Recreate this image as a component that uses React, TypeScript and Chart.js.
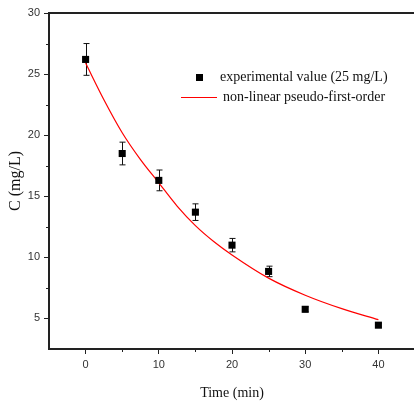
import React, { useEffect, useRef } from "react";
import { Chart, registerables } from "chart.js";

Chart.register(...registerables);

const timePoints = [0, 5, 10, 15, 20, 25, 30, 40];
const concValues = [26.2, 18.5, 16.3, 13.7, 11.0, 8.85, 5.75, 4.45];
const concErrors = [1.3, 0.93, 0.85, 0.68, 0.55, 0.43, 0.2, 0.15];

const fitTimes = [0, 2.5, 5, 7.5, 10, 12.5, 15, 17.5, 20, 25, 30, 35, 40];
const fitValues = [25.9, 22.9, 20.2, 18.0, 16.1, 14.2, 12.6, 11.3, 10.2, 8.3, 6.9, 5.8, 4.9];

const xTicks = [0, 10, 20, 30, 40];
const xMinorTicks = [5, 15, 25, 35];
const yTicks = [5, 10, 15, 20, 25, 30];
const yMinorTicks = [7.5, 12.5, 17.5, 22.5, 27.5];

const legendLabels = ["experimental value (25 mg/L)", "non-linear pseudo-first-order"];

const AXIS_COLOR = "#222";
const POINT_COLOR = "#000000";
const FIT_COLOR = "#ff0000";
const TICK_FONT = { family: "'Liberation Sans', Arial, sans-serif", size: 11 };
const SERIF = "'Liberation Serif', 'Times New Roman', serif";

const extrasPlugin = {
  id: "extras",
  beforeDatasetsDraw(chart: any) {
    const ctx = chart.ctx;
    const x = chart.scales.x;
    const y = chart.scales.y;
    ctx.save();
    ctx.strokeStyle = "#111";
    ctx.lineWidth = 1;
    timePoints.forEach((t, i) => {
      const px = Math.round(x.getPixelForValue(t)) + 0.5;
      const top = y.getPixelForValue(concValues[i] + concErrors[i]);
      const bot = y.getPixelForValue(concValues[i] - concErrors[i]);
      ctx.beginPath();
      ctx.moveTo(px, top);
      ctx.lineTo(px, bot);
      ctx.moveTo(px - 3, top);
      ctx.lineTo(px + 3, top);
      ctx.moveTo(px - 3, bot);
      ctx.lineTo(px + 3, bot);
      ctx.stroke();
    });
    ctx.restore();
  },
  afterDraw(chart: any) {
    const ctx = chart.ctx;
    const x = chart.scales.x;
    const y = chart.scales.y;
    const area = chart.chartArea;
    ctx.save();
    ctx.strokeStyle = AXIS_COLOR;
    ctx.lineWidth = 1;
    xMinorTicks.forEach((t) => {
      const px = Math.round(x.getPixelForValue(t)) + 0.5;
      ctx.beginPath();
      ctx.moveTo(px, area.bottom);
      ctx.lineTo(px, area.bottom + 3);
      ctx.stroke();
    });
    yMinorTicks.forEach((v) => {
      const py = Math.round(y.getPixelForValue(v)) + 0.5;
      ctx.beginPath();
      ctx.moveTo(area.left - 3, py);
      ctx.lineTo(area.left, py);
      ctx.stroke();
    });
    ctx.lineWidth = 2;
    ctx.beginPath();
    ctx.moveTo(area.left, area.top);
    ctx.lineTo(area.right, area.top);
    ctx.stroke();

    // legend
    ctx.fillStyle = POINT_COLOR;
    ctx.fillRect(196, 74, 7, 7);
    ctx.strokeStyle = FIT_COLOR;
    ctx.lineWidth = 1;
    ctx.beginPath();
    ctx.moveTo(181, 97.5);
    ctx.lineTo(217, 97.5);
    ctx.stroke();
    ctx.fillStyle = "#111";
    ctx.font = `14px ${SERIF}`;
    ctx.textBaseline = "middle";
    ctx.textAlign = "left";
    ctx.fillText(legendLabels[0], 220, 77);
    ctx.fillText(legendLabels[1], 223, 97);
    ctx.restore();
  },
};

export default function App() {
  const canvasRef = useRef<HTMLCanvasElement | null>(null);

  useEffect(() => {
    const canvas = canvasRef.current;
    if (!canvas) return;
    const chart = new Chart(canvas, {
      type: "scatter",
      data: {
        datasets: [
          {
            label: legendLabels[0],
            data: timePoints.map((t, i) => ({ x: t, y: concValues[i] })),
            backgroundColor: POINT_COLOR,
            borderColor: POINT_COLOR,
            pointStyle: "rect",
            pointRadius: 5,
            pointBorderWidth: 0,
            showLine: false,
            order: 0,
          },
          {
            label: legendLabels[1],
            data: fitTimes.map((t, i) => ({ x: t, y: fitValues[i] })),
            borderColor: FIT_COLOR,
            backgroundColor: FIT_COLOR,
            borderWidth: 1.2,
            pointRadius: 0,
            showLine: true,
            cubicInterpolationMode: "monotone",
            order: 1,
          },
        ],
      },
      options: {
        responsive: false,
        animation: false,
        devicePixelRatio: 1,
        layout: { padding: { top: 13, right: 4, left: 0, bottom: 0 } },
        plugins: {
          legend: { display: false },
          tooltip: { enabled: false },
        },
        scales: {
          x: {
            type: "linear",
            min: -5,
            max: 45,
            afterBuildTicks: (scale: any) => {
              scale.ticks = xTicks.map((v) => ({ value: v }));
            },
            afterFit: (scale: any) => {
              scale.height = 54;
            },
            grid: {
              drawOnChartArea: false,
              drawTicks: true,
              tickLength: 5,
              color: AXIS_COLOR,
              tickColor: AXIS_COLOR,
            },
            border: { display: true, color: AXIS_COLOR, width: 2 },
            ticks: {
              font: TICK_FONT,
              color: "#333",
              padding: 4,
              maxRotation: 0,
            },
            title: {
              display: true,
              text: "Time (min)",
              font: { family: SERIF, size: 14 },
              color: "#111",
              padding: { top: 0, bottom: 1 },
            },
          },
          y: {
            type: "linear",
            min: 2.5,
            max: 30,
            afterBuildTicks: (scale: any) => {
              scale.ticks = yTicks.map((v) => ({ value: v }));
            },
            afterFit: (scale: any) => {
              scale.width = 49;
            },
            grid: {
              drawOnChartArea: false,
              drawTicks: true,
              tickLength: 5,
              color: AXIS_COLOR,
              tickColor: AXIS_COLOR,
            },
            border: { display: true, color: AXIS_COLOR, width: 2 },
            ticks: {
              font: TICK_FONT,
              color: "#333",
              padding: 4,
            },
            title: {
              display: true,
              text: "C (mg/L)",
              font: { family: SERIF, size: 16 },
              color: "#111",
              padding: { top: 6, bottom: 0 },
            },
          },
        },
      },
      plugins: [extrasPlugin],
    } as any);
    return () => chart.destroy();
  }, []);

  return (
    <div
      style={{
        position: "absolute",
        left: 0,
        top: 0,
        width: 414,
        height: 403,
        overflow: "hidden",
        background: "#fff",
      }}
    >
      <canvas ref={canvasRef} width={420} height={403} style={{ display: "block" }} />
    </div>
  );
}
